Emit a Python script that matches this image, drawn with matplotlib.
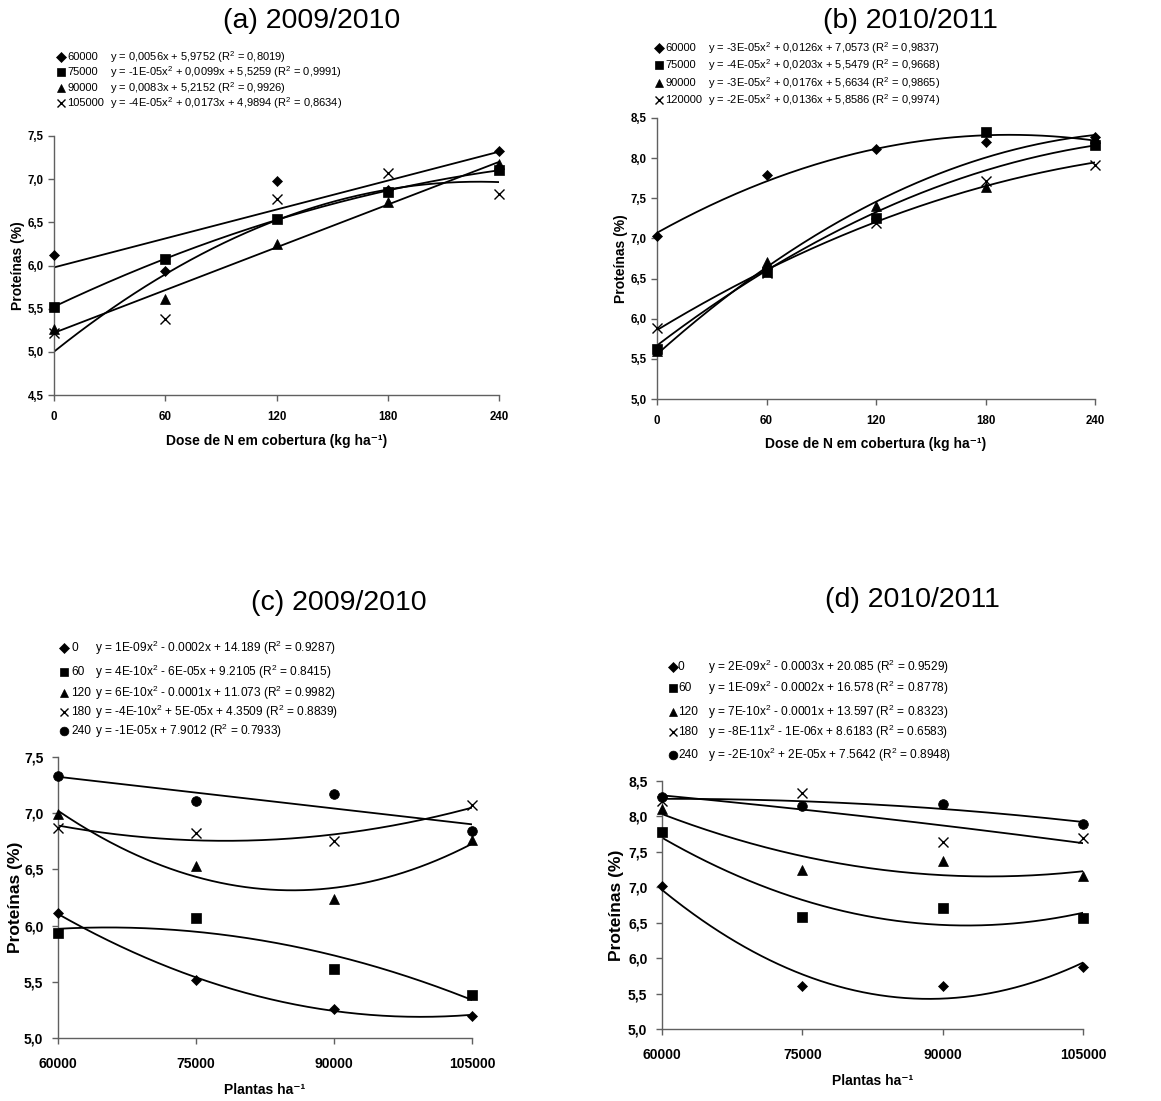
import numpy as np
from matplotlib import pyplot as plt

plt.rcParams['font.family'] = ['Liberation Sans Narrow', 'Liberation Sans', 'DejaVu Sans']
plt.rcParams['mathtext.default'] = 'regular'

# x values
dose = [0, 60, 120, 180, 240]
plantas = [60000, 75000, 90000, 105000]

# (a) 2009/2010, protein vs N dose, one series per plant density
a_60000 = [6.12, 5.94, 6.98, 6.87, 7.33]
a_75000 = [5.52, 6.08, 6.54, 6.85, 7.11]
a_90000 = [5.27, 5.61, 6.25, 6.74, 7.18]
a_105000 = [5.22, 5.38, 6.77, 7.07, 6.83]

# (b) 2010/2011
b_60000 = [7.03, 7.79, 8.12, 8.20, 8.26]
b_75000 = [5.62, 6.58, 7.26, 8.33, 8.16]
b_90000 = [5.60, 6.71, 7.40, 7.64, 8.25]
b_120000 = [5.88, 6.57, 7.19, 7.71, 7.92]

# (c) 2009/2010, protein vs plant density, one series per N dose
c_0 = [6.11, 5.52, 5.26, 5.20]
c_60 = [5.93, 6.07, 5.61, 5.38]
c_120 = [6.99, 6.53, 6.24, 6.76]
c_180 = [6.87, 6.82, 6.75, 7.07]
c_240 = [7.33, 7.11, 7.17, 6.84]

# (d) 2010/2011
d_0 = [7.02, 5.60, 5.60, 5.88]
d_60 = [7.78, 6.58, 6.71, 6.56]
d_120 = [8.10, 7.24, 7.37, 7.16]
d_180 = [8.22, 8.33, 7.64, 7.70]
d_240 = [8.27, 8.15, 8.17, 7.90]

names_a = ['60000', '75000', '90000', '105000']
names_b = ['60000', '75000', '90000', '120000']
names_cd = ['0', '60', '120', '180', '240']

eq_a = ['y = 0,0056x + 5,9752 (R$^2$ = 0,8019)',
        'y = -1E-05x$^2$ + 0,0099x + 5,5259 (R$^2$ = 0,9991)',
        'y = 0,0083x + 5,2152 (R$^2$ = 0,9926)',
        'y = -4E-05x$^2$ + 0,0173x + 4,9894 (R$^2$ = 0,8634)']
eq_b = ['y = -3E-05x$^2$ + 0,0126x + 7,0573 (R$^2$ = 0,9837)',
        'y = -4E-05x$^2$ + 0,0203x + 5,5479 (R$^2$ = 0,9668)',
        'y = -3E-05x$^2$ + 0,0176x + 5,6634 (R$^2$ = 0,9865)',
        'y = -2E-05x$^2$ + 0,0136x + 5,8586 (R$^2$ = 0,9974)']
eq_c = ['y = 1E-09x$^2$ - 0.0002x + 14.189 (R$^2$ = 0.9287)',
        'y = 4E-10x$^2$ - 6E-05x + 9.2105 (R$^2$ = 0.8415)',
        'y = 6E-10x$^2$ - 0.0001x + 11.073 (R$^2$ = 0.9982)',
        'y = -4E-10x$^2$ + 5E-05x + 4.3509 (R$^2$ = 0.8839)',
        'y = -1E-05x + 7.9012 (R$^2$ = 0.7933)']
eq_d = ['y = 2E-09x$^2$ - 0.0003x + 20.085 (R$^2$ = 0.9529)',
        'y = 1E-09x$^2$ - 0.0002x + 16.578 (R$^2$ = 0.8778)',
        'y = 7E-10x$^2$ - 0.0001x + 13.597 (R$^2$ = 0.8323)',
        'y = -8E-11x$^2$ - 1E-06x + 8.6183 (R$^2$ = 0.6583)',
        'y = -2E-10x$^2$ + 2E-05x + 7.5642 (R$^2$ = 0.8948)']

W, H = 1161, 1101
markers = [('D', 5.5), ('s', 6.5), ('^', 7), ('x', 7), ('o', 7)]
plain = ['Liberation Sans', 'DejaVu Sans']


def fx(px):
    return px / W


def fy(py):
    return 1 - py / H


def comma(v):
    return f"{v:.1f}".replace('.', ',')


def panel(box, x, series, degrees, yticks, xlabel, tick_fs, ypad, xpad, ylpad, xlpad):
    left, top, right, bottom = box
    ax = fig.add_axes([fx(left), fy(bottom), fx(right - left), (bottom - top) / H])
    for i, y in enumerate(series):
        # trend line fitted to the points (linear or quadratic)
        coef = np.polyfit(np.array(x, dtype=float), y, degrees[i])
        xs = np.linspace(x[0], x[-1], 200)
        ax.plot(xs, np.polyval(coef, xs), color='black', lw=1.3, zorder=2)
        m, s = markers[i]
        ax.plot(x, y, linestyle='none', marker=m, ms=s, color='black',
                mew=1.0 if m == 'x' else 0.5, zorder=3, clip_on=False)
    ax.set_xlim(x[0], x[-1])
    ax.set_ylim(yticks[0], yticks[-1])
    ax.set_xticks(x)
    ax.set_yticks(yticks)
    ax.set_yticklabels([comma(v) for v in yticks])
    for sp in ['top', 'right']:
        ax.spines[sp].set_visible(False)
    for sp in ['left', 'bottom']:
        ax.spines[sp].set_color('#606060')
        ax.spines[sp].set_linewidth(1.0)
    ax.tick_params(direction='out', length=4, width=1.0, color='#606060',
                   labelsize=tick_fs)
    ax.tick_params(axis='y', pad=ypad)
    ax.tick_params(axis='x', pad=xpad)
    for lab in ax.get_xticklabels() + ax.get_yticklabels():
        lab.set_fontweight('bold')
    ax.set_xlabel(xlabel, fontsize=10, fontweight='bold', labelpad=xlpad)
    ax.set_ylabel('Proteínas (%)', fontsize=10 if tick_fs < 9 else 12.5,
                  fontweight='bold', labelpad=ylpad)
    return ax


def legend(mx, rows, names, eqs, name_x, eq_x, fs):
    for i, py in enumerate(rows):
        m, s = markers[i]
        fig.lines.append(plt.Line2D([fx(mx)], [fy(py)], marker=m, ms=s * 0.9, color='black',
                                    mew=1.0 if m == 'x' else 0.5, linestyle='none',
                                    transform=fig.transFigure))
        fig.text(fx(name_x), fy(py), names[i], fontsize=fs, va='center', ha='left', family=plain)
        fig.text(fx(eq_x), fy(py), eqs[i], fontsize=fs, va='center', ha='left', family=plain)


fig = plt.figure(figsize=(W / 100, H / 100), dpi=100)

xlab_dose = 'Dose de N em cobertura (kg ha⁻¹)'
xlab_pl = 'Plantas ha⁻¹'

panel((54, 136, 499, 395), dose, [a_60000, a_75000, a_90000, a_105000], [1, 2, 1, 2],
      [4.5, 5.0, 5.5, 6.0, 6.5, 7.0, 7.5], xlab_dose, 8.3, 3.5, 7.5, 1.5, 8)
panel((657, 118, 1095, 399), dose, [b_60000, b_75000, b_90000, b_120000], [2, 2, 2, 2],
      [5.0, 5.5, 6.0, 6.5, 7.0, 7.5, 8.0, 8.5], xlab_dose, 8.3, 3.5, 7.5, 1.5, 7)
panel((58, 757, 472, 1038), plantas, [c_0, c_60, c_120, c_180, c_240], [2, 2, 2, 2, 1],
      [5.0, 5.5, 6.0, 6.5, 7.0, 7.5], xlab_pl, 10, 6.5, 9.5, 1, 9)
panel((662, 781, 1083, 1029), plantas, [d_0, d_60, d_120, d_180, d_240], [2, 2, 2, 2, 2],
      [5.0, 5.5, 6.0, 6.5, 7.0, 7.5, 8.0, 8.5], xlab_pl, 10, 6.5, 9.5, 3, 9)

legend(61, [57, 72, 88, 103], names_a, eq_a, 67, 110, 8)
legend(659, [48, 65, 83, 100], names_b, eq_b, 665, 708, 8)
legend(64, [648, 672, 693, 712, 731], names_cd, eq_c, 71, 95, 8.6)
legend(673, [667, 688, 712, 732, 755], names_cd, eq_d, 678, 708, 8.6)

title_fs = 20.5
fig.text(fx(312), fy(21), '(a) 2009/2010', fontsize=title_fs, ha='center', va='center')
fig.text(fx(910), fy(21), '(b) 2010/2011', fontsize=title_fs, ha='center', va='center')
fig.text(fx(339), fy(603), '(c) 2009/2010', fontsize=title_fs, ha='center', va='center')
fig.text(fx(912), fy(600), '(d) 2010/2011', fontsize=title_fs, ha='center', va='center')

fig.savefig('out.png', dpi=100)
